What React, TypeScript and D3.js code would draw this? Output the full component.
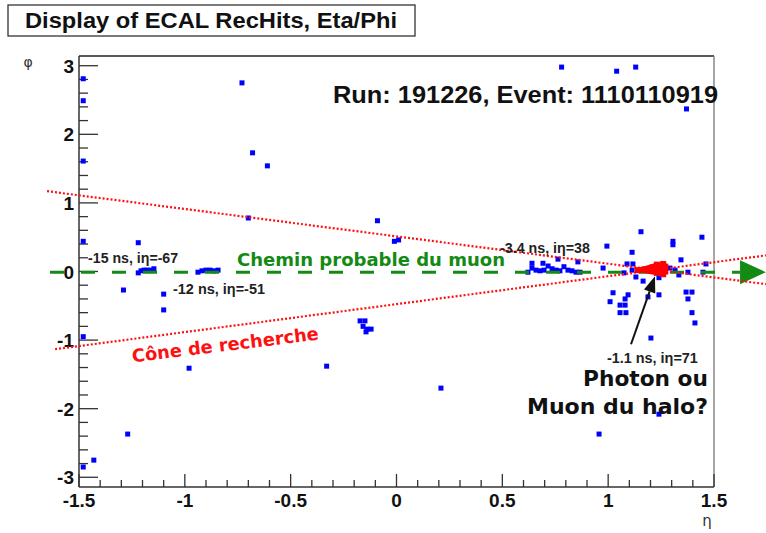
import React from 'react';
import * as d3 from 'd3';

// ECAL rechits, eta/phi positions
const blueHits: [number, number][] = [
  [-1.48, 2.81], [-1.48, 2.49], [-1.48, 1.61], [-1.48, 0.44], [-1.48, -0.95],
  [-1.48, -2.85], [-1.43, -2.75], [-1.29, -0.27], [-1.22, 0.42], [-1.22, -0.02],
  [-1.207, 0.01], [-1.193, 0.02], [-1.179, 0.02], [-1.16, 0.02], [-1.146, 0.04],
  [-1.1, -0.33], [-1.1, -0.56], [-1.27, -2.37], [-0.98, -1.41],
  [-0.938, -0.01], [-0.919, 0.01], [-0.9, 0.02], [-0.881, 0.02], [-0.862, 0.01], [-0.843, 0.02],
  [-0.73, 2.75], [-0.68, 1.73], [-0.61, 1.54], [-0.7, 0.78], [-0.33, -1.38],
  [-0.172, -0.72], [-0.149, -0.72], [-0.158, -0.8], [-0.139, -0.84], [-0.12, -0.84], [-0.144, -0.88],
  [-0.09, 0.74], [-0.01, 0.44], [0.01, 0.46], [0.21, -1.7],
  [0.621, -0.01], [0.64, 0.05], [0.659, 0.02], [0.678, 0.01], [0.697, 0.02], [0.716, 0.08],
  [0.735, 0.04], [0.754, 0.02], [0.772, 0.01], [0.791, 0.07], [0.81, 0.02], [0.829, 0.01],
  [0.848, -0.01], [0.64, 0.12], [0.692, 0.12], [0.763, 0.18], [0.857, 0.14], [0.867, -0.01],
  [0.78, 2.98], [1.04, 2.92], [1.13, 2.98], [1.37, 2.37],
  [1.155, 0.58], [0.994, 0.37], [1.113, 0.28], [1.306, 0.44], [1.306, 0.39], [1.443, 0.5],
  [1.344, 0.17], [1.462, 0.11], [1.089, 0.11], [1.117, 0.11], [0.976, 0.05], [1.075, -0.02],
  [1.131, -0.08], [1.165, -0.14], [1.24, -0.09], [1.292, 0.05], [1.334, -0.05], [1.377, -0.01],
  [1.448, -0.01], [1.264, 0.08], [1.316, 0.02], [1.113, 0.02],
  [1.023, -0.31], [1.009, -0.44], [1.08, -0.4], [1.094, -0.34], [1.056, -0.49], [1.08, -0.49],
  [1.056, -0.6], [1.084, -0.6], [1.188, -0.37], [1.24, -0.34], [1.368, -0.3], [1.396, -0.3],
  [1.377, -0.4], [1.396, -0.6], [1.41, -0.75], [1.202, -0.97], [1.24, -2.08], [0.957, -2.37],
];

// red cluster (the photon candidate)
const photonHits: [number, number][] = [
  [1.14, 0.02], [1.17, 0.03], [1.19, 0.03], [1.21, 0.01], [1.21, 0.06], [1.23, 0.1],
  [1.23, -0.02], [1.25, 0.04], [1.26, 0.11], [1.26, -0.04], [1.27, 0.07], [1.27, 0.0],
];

const coneUpper: [number, number][] = [[-1.651, 1.171], [1.745, -0.184]];
const coneLower: [number, number][] = [[-1.613, -1.133], [1.745, 0.235]];
const muonPath: [number, number][] = [[-1.637, -0.01], [1.623, -0.01]];
const muonArrowTip: [number, number] = [1.745, -0.01];
const photonArrow: [number, number][] = [[1.108, -1.06], [1.221, -0.07]];

const xMajor = [-1.5, -1, -0.5, 0, 0.5, 1, 1.5];
const yMajor = [-3, -2, -1, 0, 1, 2, 3];

const hitLabels = [
  { eta: -1.457, phi: 0.124, text: '-15 ns, iη=-67', len: 90 },
  { eta: -1.056, phi: -0.33, text: '-12 ns, iη=-51', len: 92 },
  { eta: 0.489, phi: 0.27, text: '-3.4 ns, iη=38', len: 90 },
  { eta: 0.994, phi: -1.33, text: '-1.1 ns, iη=71', len: 91 },
];

const margin = { top: 56, right: 52, bottom: 46, left: 79 };
const W = 766;
const H = 533;

export default function App() {
  const x = d3.scaleLinear().domain([-1.5, 1.5]).range([margin.left, W - margin.right]);
  const y = d3.scaleLinear().domain([-Math.PI, Math.PI]).range([H - margin.bottom, margin.top]);
  const x0 = margin.left, x1 = W - margin.right, y0 = H - margin.bottom, y1 = margin.top;
  const line = d3.line<[number, number]>().x(d => x(d[0])).y(d => y(d[1]));

  const xMinor = d3.range(-1.5, 1.5001, 0.1).map(v => Math.round(v * 10) / 10);
  const yMinor = d3.range(-3.0, 3.0001, 0.2).map(v => Math.round(v * 10) / 10);

  const tip = [x(muonArrowTip[0]), y(muonArrowTip[1])];
  const base = x(muonPath[1][0]);

  const a0 = [x(photonArrow[0][0]), y(photonArrow[0][1])];
  const a1 = [x(photonArrow[1][0]), y(photonArrow[1][1])];
  const ang = Math.atan2(a1[1] - a0[1], a1[0] - a0[0]);
  const hl = 16, hw = 6;
  const ah = [
    [a1[0], a1[1]],
    [a1[0] - hl * Math.cos(ang) + hw * Math.sin(ang), a1[1] - hl * Math.sin(ang) - hw * Math.cos(ang)],
    [a1[0] - hl * Math.cos(ang) - hw * Math.sin(ang), a1[1] - hl * Math.sin(ang) + hw * Math.cos(ang)],
  ];

  const hull = d3.polygonHull(photonHits.map(d => [x(d[0]), y(d[1])] as [number, number]));

  const sans = 'Liberation Sans, Arial, sans-serif';
  const deja = 'DejaVu Sans, sans-serif';

  return (
    <svg width={W} height={H} style={{ position: 'absolute', left: 0, top: 0, background: '#fff' }}>
      <rect x={0} y={0} width={W} height={H} fill="#fff" />
      {/* title box */}
      <rect x={8} y={5} width={407} height={31} fill="#fff" stroke="#333" strokeWidth={1.3} />
      <text x={25} y={28} fontFamily={sans} fontWeight="bold" fontSize={22} textLength={372}
        lengthAdjust="spacingAndGlyphs" fill="#111">Display of ECAL RecHits, Eta/Phi</text>

      {/* frame */}
      <line x1={x0} y1={y1} x2={x1} y2={y1} stroke="#222" strokeWidth={1.5} />
      <line x1={x1} y1={y1} x2={x1} y2={y0} stroke="#888" strokeWidth={1.5} />
      <line x1={x0} y1={y1} x2={x0} y2={y0} stroke="#333" strokeWidth={1.5} />
      <line x1={x0} y1={y0} x2={x1} y2={y0} stroke="#333" strokeWidth={1.5} />

      {/* y ticks */}
      {yMinor.map(v => (
        <line key={'ym' + v} x1={x0} x2={x0 + (Number.isInteger(v) ? 19 : 9)} y1={y(v)} y2={y(v)}
          stroke="#333" strokeWidth={1.3} />
      ))}
      {yMajor.map(v => (
        <text key={'yl' + v} x={74} y={y(v) + 7} textAnchor="end" fontFamily={sans} fontWeight="bold"
          fontSize={19} fill="#111">{v}</text>
      ))}
      {/* x ticks */}
      {xMinor.map(v => (
        <line key={'xm' + v} x1={x(v)} x2={x(v)} y1={y0} y2={y0 - (Math.abs(v * 2 - Math.round(v * 2)) < 1e-6 ? 13 : 7)}
          stroke="#333" strokeWidth={1.3} />
      ))}
      {xMajor.map(v => (
        <text key={'xl' + v} x={x(v)} y={507} textAnchor="middle" fontFamily={sans} fontWeight="bold"
          fontSize={19} fill="#111">{v}</text>
      ))}
      <text x={28} y={67} textAnchor="middle" fontFamily={deja} fontSize={14} fill="#333">φ</text>
      <text x={707} y={526} textAnchor="middle" fontFamily={deja} fontSize={15} fill="#333">η</text>

      {/* blue hits */}
      {blueHits.map((d, i) => (
        <rect key={'b' + i} x={x(d[0]) - 2.5} y={y(d[1]) - 2.5} width={5} height={5} fill="#0000ff" />
      ))}

      {/* muon path */}
      <path d={line(muonPath) || ''} stroke="#138a13" strokeWidth={3} strokeDasharray="14 17" fill="none" />
      <path d={`M${base},${tip[1] - 12}L${tip[0]},${tip[1]}L${base},${tip[1] + 12}Z`} fill="#138a13" />

      {/* search cone */}
      <path d={line(coneUpper) || ''} stroke="#ff1010" strokeWidth={2.2} strokeDasharray="2 2" fill="none" />
      <path d={line(coneLower) || ''} stroke="#ff1010" strokeWidth={2.2} strokeDasharray="2 2" fill="none" />

      {/* photon hits */}
      {hull && <path d={'M' + hull.join('L') + 'Z'} fill="#ff0000" stroke="#ff0000" strokeWidth={4} strokeLinejoin="round" />}
      {photonHits.map((d, i) => (
        <rect key={'r' + i} x={x(d[0]) - 3} y={y(d[1]) - 3} width={6} height={6} fill="#ff0000" />
      ))}

      {/* arrow */}
      <line x1={a0[0]} y1={a0[1]} x2={(ah[1][0] + ah[2][0]) / 2} y2={(ah[1][1] + ah[2][1]) / 2}
        stroke="#111" strokeWidth={2} />
      <path d={`M${ah[0][0]},${ah[0][1]}L${ah[1][0]},${ah[1][1]}L${ah[2][0]},${ah[2][1]}Z`} fill="#111" />

      {/* annotations */}
      <text x={333} y={103} fontFamily={sans} fontWeight="bold" fontSize={23} textLength={385}
        lengthAdjust="spacingAndGlyphs" fill="#111">Run: 191226, Event: 1110110919</text>
      {hitLabels.map(l => (
        <text key={l.text} x={x(l.eta)} y={y(l.phi)} fontFamily={sans} fontWeight="bold" fontSize={14}
          textLength={l.len} lengthAdjust="spacingAndGlyphs" fill="#222">{l.text}</text>
      ))}
      <text x={237} y={266} fontFamily={deja} fontWeight="bold" fontSize={17} textLength={268}
        lengthAdjust="spacingAndGlyphs" fill="#138a13">Chemin probable du muon</text>
      <text transform="translate(226,351) rotate(-7)" textAnchor="middle" fontFamily={deja} fontWeight="bold"
        fontSize={18} textLength={188} lengthAdjust="spacingAndGlyphs" fill="#ff1010">Cône de recherche</text>
      <text x={708} y={386} textAnchor="end" fontFamily={deja} fontWeight="bold" fontSize={21}
        textLength={125} lengthAdjust="spacingAndGlyphs" fill="#111">Photon ou</text>
      <text x={708} y={414} textAnchor="end" fontFamily={deja} fontWeight="bold" fontSize={21}
        textLength={181} lengthAdjust="spacingAndGlyphs" fill="#111">Muon du halo?</text>
    </svg>
  );
}
